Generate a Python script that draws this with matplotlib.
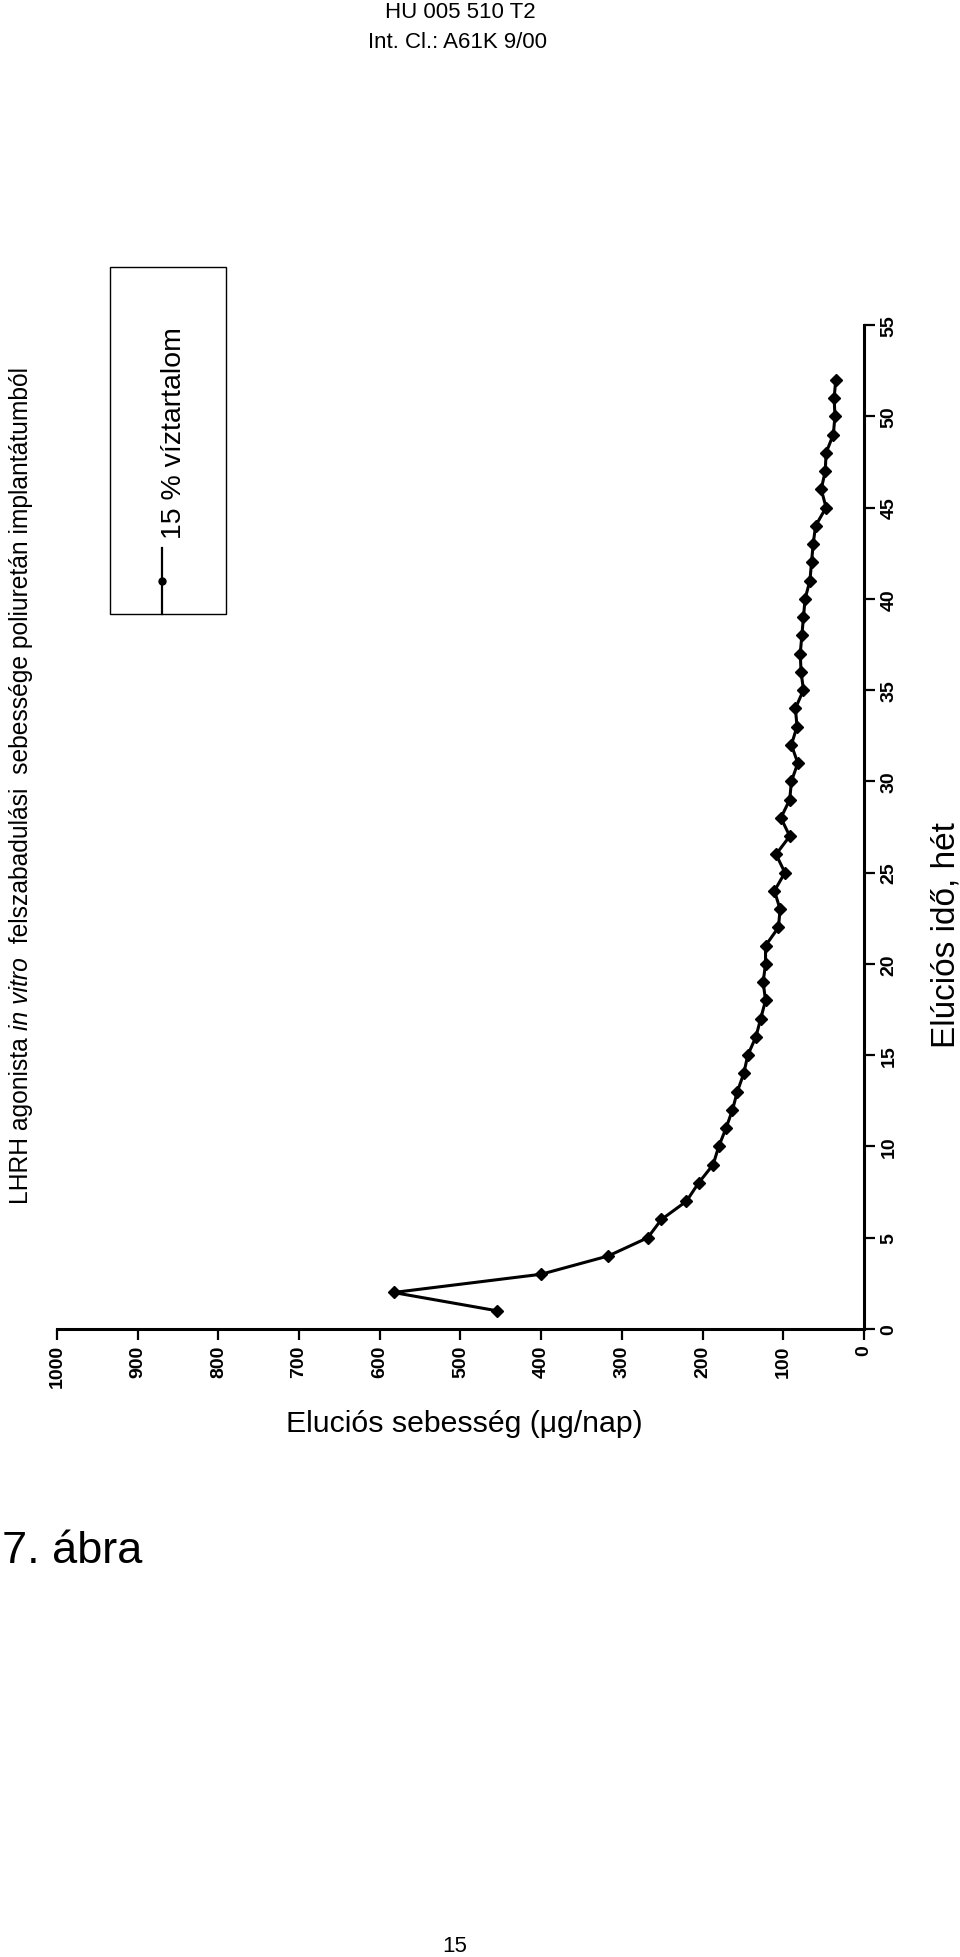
import matplotlib
matplotlib.use("Agg")
import matplotlib.pyplot as plt
from matplotlib import font_manager
from matplotlib.patches import Rectangle
from matplotlib.lines import Line2D

# ---------------- data ----------------
weeks = list(range(1, 53))
rate = [455, 583, 400, 317, 268, 251, 220, 205, 187, 180,
        171, 163, 157, 149, 144, 134, 128, 122, 125, 122,
        122, 106, 104, 111, 98, 109, 92, 103, 92, 90,
        82, 90, 83, 85, 75, 78, 79, 77, 75, 73,
        67, 65, 63, 60, 47, 53, 48, 47, 38, 36,
        37, 35]
rate_ticks = list(range(0, 1001, 100))
week_ticks = list(range(0, 56, 5))
series_label = "15 % víztartalom"
title_parts = [("LHRH agonista ", "normal"), ("in vitro", "italic"),
               ("  felszabadulási  sebessége poliuretán implantátumból", "normal")]
xlabel = "Elúciós idő, hét"
ylabel = "Eluciós sebesség (μg/nap)"
header1 = "HU 005 510 T2"
header2 = "Int. Cl.: A61K 9/00"
figlabel = "7. ábra"
pagenum = "15"

# ---------------- fonts ----------------
names = {f.name for f in font_manager.fontManager.ttflist}
SANS = "Liberation Sans" if "Liberation Sans" in names else "DejaVu Sans"
NARROW = "Liberation Sans Narrow" if "Liberation Sans Narrow" in names else SANS
plt.rcParams['font.family'] = [SANS, 'DejaVu Sans']

W, H = 960, 1958
fig = plt.figure(figsize=(W / 100, H / 100), dpi=100)
fig.patch.set_facecolor("white")


def fx(px):
    return px / W


def fy(py):
    return 1 - py / H


# ---------------- axes (rotated chart) ----------------
x_left, x_right = 57, 864
y_top, y_bot = 326, 1330
ax = fig.add_axes([fx(x_left), fy(y_bot), (x_right - x_left) / W, (y_bot - y_top) / H])
ax.set_xlim(1000, 0)
ax.set_ylim(0, 55)
for s in ("left", "top"):
    ax.spines[s].set_visible(False)
for s in ("bottom", "right"):
    ax.spines[s].set_linewidth(2.2)
ax.set_xticks(rate_ticks)
ax.set_yticks(week_ticks)
ax.yaxis.tick_right()
ax.tick_params(axis="x", direction="out", length=8, width=1.6, pad=3,
               labelrotation=90, labelsize=14)
ax.tick_params(axis="y", direction="out", length=8, width=1.6, pad=4,
               labelrotation=90, labelsize=14, left=False, right=True,
               labelleft=False, labelright=True)
for lab in ax.get_xticklabels() + ax.get_yticklabels():
    lab.set_fontweight("bold")
    lab.set_family(SANS)
for lab in ax.get_yticklabels():
    lab.set_va("center")

ax.plot(rate, weeks, color="black", lw=2.2, marker="D", ms=6,
        markerfacecolor="black", markeredgecolor="black", solid_joinstyle="round")

# ---------------- legend box ----------------
fig.add_artist(Rectangle((fx(110), fy(615)), (226 - 110) / W, (615 - 268) / H,
                         transform=fig.transFigure, fill=False, lw=1.0, ec="black"))
fig.add_artist(Line2D([fx(162), fx(162)], [fy(615), fy(549)], transform=fig.transFigure,
                      color="black", lw=1.6))
fig.add_artist(Line2D([fx(162)], [fy(582)], transform=fig.transFigure,
                      color="black", marker="o", ms=5, lw=0))
fig.text(fx(174), fy(539), series_label, rotation=90, ha="center", va="bottom",
         fontsize=20.5, family=SANS)

# ---------------- axis labels ----------------
fig.text(fx(946), fy(935), xlabel, rotation=90, ha="center", va="center",
         fontsize=24, family=SANS)
fig.text(fx(464), fy(1424), ylabel, ha="center", va="center", fontsize=21.8, family=SANS)

# ---------------- title (rotated, mixed style) ----------------
renderer = fig.canvas.get_renderer()
target_len = 1204 - 362
base_size = 16
total = 0
for txt, style in title_parts:
    t = fig.text(0, 0, txt, rotation=90, fontsize=base_size, family=NARROW, style=style)
    total += t.get_window_extent(renderer).height
    t.remove()
size = base_size * target_len / total
ypos = 1204
for txt, style in title_parts:
    t = fig.text(fx(21), fy(ypos), txt, rotation=90, rotation_mode="anchor",
                 ha="left", va="center", fontsize=size, family=NARROW, style=style)
    ypos -= t.get_window_extent(renderer).height

# ---------------- header / footer ----------------
fig.text(fx(460), fy(13), header1, ha="center", va="center", fontsize=16, family=SANS)
fig.text(fx(458), fy(42), header2, ha="center", va="center", fontsize=16, family=SANS)
fig.text(fx(2), fy(1563), figlabel, ha="left", va="baseline", fontsize=32.5, family=SANS)
fig.text(fx(455), fy(1947), pagenum, ha="center", va="center", fontsize=16, family=SANS)

fig.savefig("out.png", dpi=100, facecolor="white")
